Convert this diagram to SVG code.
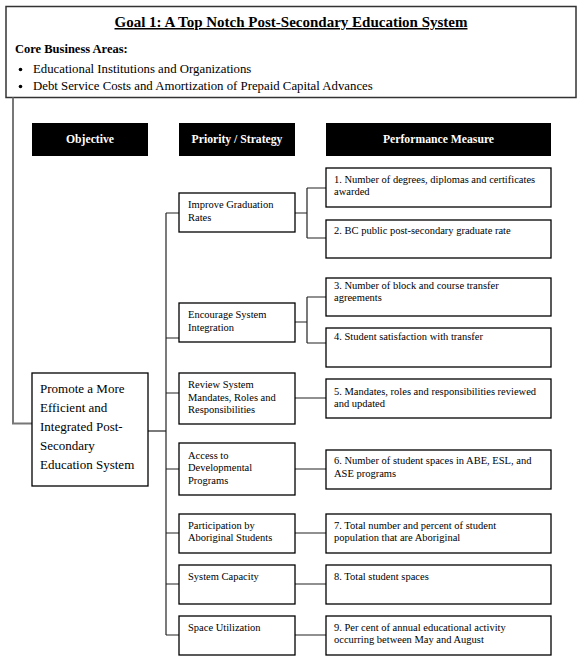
<svg xmlns="http://www.w3.org/2000/svg" width="580" height="663" viewBox="0 0 580 663" font-family="'Liberation Serif', 'Times New Roman', Tinos, 'DejaVu Serif', serif">
<style>
text{font-family:'Liberation Serif','Times New Roman',Tinos,'DejaVu Serif',serif;fill:#000}
.box{fill:#fff;stroke:#000;stroke-width:1.3}
.hdr{fill:#000}
.ht{fill:#fff;font-weight:bold;font-size:11.7px;text-anchor:middle}
.st{font-size:10.5px}
.mt{font-size:10.5px}
.ot{font-size:13px}
.con{fill:none;stroke:#222;stroke-width:1.2}
</style>
<rect width="580" height="663" fill="#fff"/>
<g id="goal">
<rect x="6" y="6.5" width="570" height="91" fill="#fff" stroke="#333" stroke-width="1.5"/>
<text x="291" y="27" font-size="15" font-weight="bold" text-anchor="middle" text-decoration="underline">Goal 1: A Top Notch Post-Secondary Education System</text>
<text x="15" y="53" font-size="12.5" font-weight="bold">Core Business Areas:</text>
<circle cx="20.5" cy="69.5" r="1.8" fill="#000"/>
<text x="33" y="73" font-size="12.8">Educational Institutions and Organizations</text>
<circle cx="20.5" cy="86.5" r="1.8" fill="#000"/>
<text x="33" y="90" font-size="12.8">Debt Service Costs and Amortization of Prepaid Capital Advances</text>
</g>
<g id="connectors">
<path d="M13 97.5V423.5H32" fill="none" stroke="#777" stroke-width="2"/>
<path class="con" d="M148 431H166"/>
<path class="con" d="M166 213V635"/>
<path class="con" d="M166 213H179M166 338H179M166 393H179M166 469H179M166 533H179M166 584H179M166 635H179"/>
<path class="con" d="M295 213H307M307 188V238M307 188H326M307 238H326"/>
<path class="con" d="M295 322H307M307 297V343M307 297H326M307 343H326"/>
<path class="con" d="M295 398H326M295 469H326M295 533H326M295 584H326M295 635H326"/>
</g>
<g id="headers">
<rect class="hdr" x="32" y="123" width="116" height="33"/>
<text class="ht" x="90" y="143">Objective</text>
<rect class="hdr" x="179" y="123" width="116" height="33"/>
<text class="ht" x="237" y="143">Priority / Strategy</text>
<rect class="hdr" x="326" y="123" width="225" height="33"/>
<text class="ht" x="438.5" y="143">Performance Measure</text>
</g>
<g id="objective">
<rect class="box" x="32" y="373" width="116" height="113"/>
<text class="ot" x="40" y="393">Promote a More</text>
<text class="ot" x="40" y="412">Efficient and</text>
<text class="ot" x="40" y="431">Integrated Post-</text>
<text class="ot" x="40" y="450">Secondary</text>
<text class="ot" x="40" y="469">Education System</text>
</g>
<g id="s1"><rect class="box" x="179" y="193" width="116" height="39"/>
<text class="st" x="188" y="208">Improve Graduation</text><text class="st" x="188" y="221">Rates</text></g>
<g id="s2"><rect class="box" x="179" y="303" width="116" height="39"/>
<text class="st" x="188" y="318">Encourage System</text><text class="st" x="188" y="331">Integration</text></g>
<g id="s3"><rect class="box" x="179" y="373" width="116" height="51"/>
<text class="st" x="188" y="388">Review System</text><text class="st" x="188" y="401">Mandates, Roles and</text><text class="st" x="188" y="413">Responsibilities</text></g>
<g id="s4"><rect class="box" x="179" y="443" width="116" height="52"/>
<text class="st" x="188" y="459">Access to</text><text class="st" x="188" y="471">Developmental</text><text class="st" x="188" y="484">Programs</text></g>
<g id="s5"><rect class="box" x="179" y="514" width="116" height="39"/>
<text class="st" x="188" y="529">Participation by</text><text class="st" x="188" y="541">Aboriginal Students</text></g>
<g id="s6"><rect class="box" x="179" y="565" width="116" height="39"/>
<text class="st" x="188" y="580">System Capacity</text></g>
<g id="s7"><rect class="box" x="179" y="616" width="116" height="39"/>
<text class="st" x="188" y="631">Space Utilization</text></g>
<g id="m1"><rect class="box" x="326" y="168" width="225" height="39"/>
<text class="mt" x="334" y="183">1. Number of degrees, diplomas and certificates</text><text class="mt" x="334" y="195">awarded</text></g>
<g id="m2"><rect class="box" x="326" y="220" width="225" height="38"/>
<text class="mt" x="334" y="234">2. BC public post-secondary graduate rate</text></g>
<g id="m3"><rect class="box" x="326" y="278" width="225" height="38"/>
<text class="mt" x="334" y="289">3. Number of block and course transfer</text><text class="mt" x="334" y="301">agreements</text></g>
<g id="m4"><rect class="box" x="326" y="328" width="225" height="39"/>
<text class="mt" x="334" y="340">4. Student satisfaction with transfer</text></g>
<g id="m5"><rect class="box" x="326" y="379" width="225" height="39"/>
<text class="mt" x="334" y="395">5. Mandates, roles and responsibilities reviewed</text><text class="mt" x="334" y="407">and updated</text></g>
<g id="m6"><rect class="box" x="326" y="450" width="225" height="39"/>
<text class="mt" x="334" y="464">6. Number of student spaces in ABE, ESL, and</text><text class="mt" x="334" y="477">ASE programs</text></g>
<g id="m7"><rect class="box" x="326" y="514" width="225" height="39"/>
<text class="mt" x="334" y="529">7. Total number and percent of student</text><text class="mt" x="334" y="541">population that are Aboriginal</text></g>
<g id="m8"><rect class="box" x="326" y="565" width="225" height="39"/>
<text class="mt" x="334" y="580">8. Total student spaces</text></g>
<g id="m9"><rect class="box" x="326" y="616" width="225" height="39"/>
<text class="mt" x="334" y="631">9. Per cent of annual educational activity</text><text class="mt" x="334" y="643">occurring between May and August</text></g>
</svg>
